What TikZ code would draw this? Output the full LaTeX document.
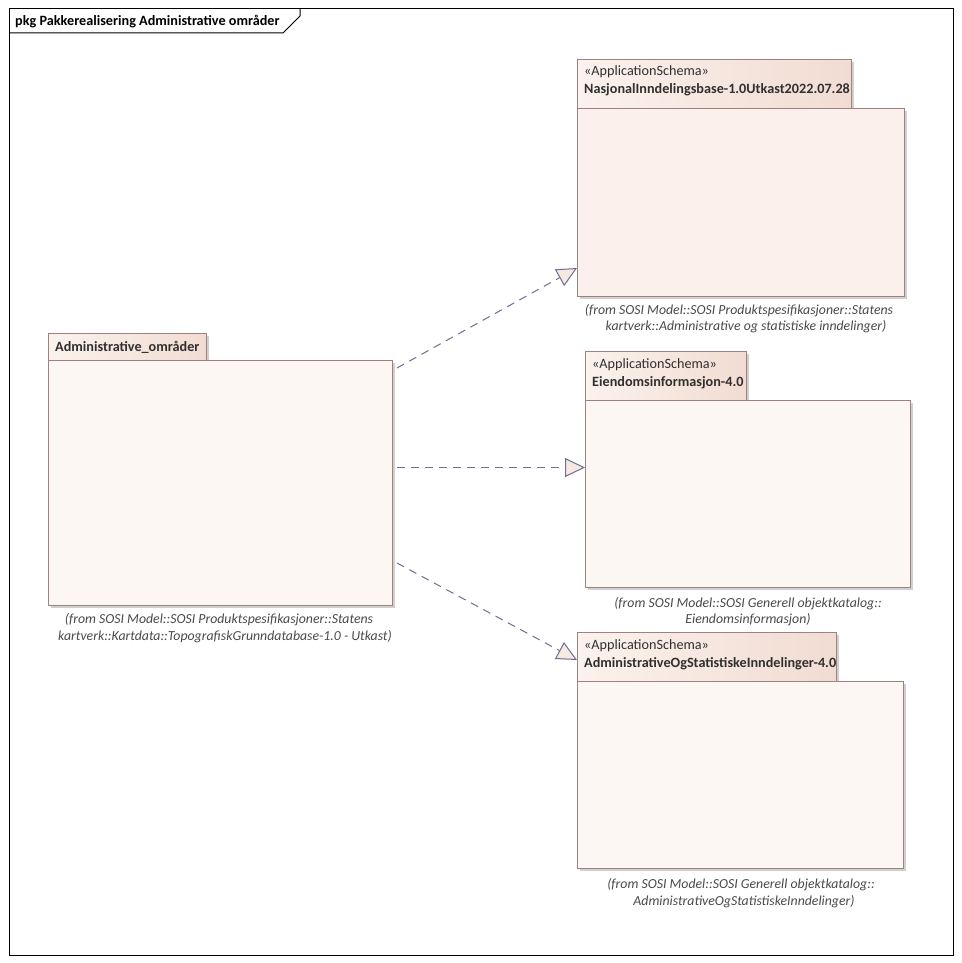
\documentclass[tikz,border=0pt]{standalone}
\usepackage{fontspec}
\setmainfont{Carlito}
\usetikzlibrary{arrows.meta,calc}
\definecolor{pkgline}{HTML}{9E8282}
\definecolor{bodyfill}{HTML}{FDF7F3}
\definecolor{bodyfillb}{HTML}{FBF0EC}
\definecolor{tabl}{HTML}{FBF2ED}
\definecolor{tabr}{HTML}{F1DCD2}
\definecolor{shadowc}{HTML}{D0D0D0}
\definecolor{depc}{HTML}{6A7090}
\definecolor{tipfill}{HTML}{F7E8E2}
\definecolor{captc}{HTML}{4A4A4A}
\definecolor{textc}{HTML}{303030}
\tikzset{
  pkgbody/.style={draw=pkgline, line width=1pt, anchor=north west, inner sep=0pt},
  pkgtab/.style={draw=pkgline, line width=1pt, anchor=north west, inner sep=0pt, left color=tabl, right color=tabr},
  shad/.style={fill=shadowc},
  dep/.style={draw=depc, line width=1pt, dash pattern=on 8pt off 6pt,
    -{Triangle[open, length=20pt, width=19pt, fill=tipfill]}},
  lbl/.style={anchor=base west, inner sep=0pt, text=textc},
  bold/.style={font=\fontsize{14.2}{16}\selectfont\bfseries},
  capt/.style={anchor=base, inner sep=0pt, text=captc, font=\fontsize{13.8}{16}\selectfont\itshape}
}
\begin{document}
\begin{tikzpicture}[x=1pt,y=-1pt, font=\fontsize{14.2}{16}\selectfont]
\useasboundingbox (0,0) rectangle (961,963);
\fill[white] (0,0) rectangle (961,963);
% frame
\draw[black, line width=1pt] (9,9) rectangle (953,955);
\draw[black, line width=1pt] (9,33) -- (283,33) -- (300,16) -- (300,9);
\node[lbl, text=black, bold] (title) at (15,26) {pkg Pakkerealisering Administrative områder};

% ---- left package
\fill[shad] (51,336) rectangle (209,360);
\fill[shad] (51,363) rectangle (395,608);
\node[pkgtab, minimum width=158pt, minimum height=27pt] (atab) at (48,333) {};
\node[pkgbody, fill=bodyfill, minimum width=344pt, minimum height=245pt] (a) at (48,360) {};
\node[lbl, bold] (aname) at (55,351) {Administrative\_områder};
\node[capt] (ac1) at (219,623) {(from SOSI Model::SOSI Produktspesifikasjoner::Statens};
\node[capt] (ac2) at (225,640) {kartverk::Kartdata::TopografiskGrunndatabase-1.0 - Utkast)};

% ---- package 1
\fill[shad] (580,62) rectangle (854,108);
\fill[shad] (580,111) rectangle (907,299);
\node[pkgtab, minimum width=274pt, minimum height=49pt] (n1tab) at (577,59) {};
\node[pkgbody, fill=bodyfillb, minimum width=327pt, minimum height=188pt] (n1) at (577,108) {};
\node[lbl] (n1st) at (584,76) {«ApplicationSchema»};
\node[lbl, bold] (n1name) at (584,94) {NasjonalInndelingsbase-1.0Utkast2022.07.28};
\node[capt] (n1c1) at (739,314) {(from SOSI Model::SOSI Produktspesifikasjoner::Statens};
\node[capt] (n1c2) at (746,330) {kartverk::Administrative og statistiske inndelinger)};

% ---- package 2
\fill[shad] (588,354) rectangle (749,400);
\fill[shad] (588,403) rectangle (913,590);
\node[pkgtab, minimum width=161pt, minimum height=49pt] (n2tab) at (585,351) {};
\node[pkgbody, fill=bodyfill, minimum width=325pt, minimum height=187pt] (n2) at (585,400) {};
\node[lbl] (n2st) at (592,368) {«ApplicationSchema»};
\node[lbl, bold] (n2name) at (592,386) {Eiendomsinformasjon-4.0};
\node[capt] (n2c1) at (748,607) {(from SOSI Model::SOSI Generell objektkatalog::};
\node[capt] (n2c2) at (748,623) {Eiendomsinformasjon)};

% ---- package 3
\fill[shad] (580,635) rectangle (839,681);
\fill[shad] (580,684) rectangle (906,871);
\node[pkgtab, minimum width=259pt, minimum height=49pt] (n3tab) at (577,632) {};
\node[pkgbody, fill=bodyfill, minimum width=326pt, minimum height=187pt] (n3) at (577,681) {};
\node[lbl] (n3st) at (584,649) {«ApplicationSchema»};
\node[lbl, bold] (n3name) at (584,667) {AdministrativeOgStatistiskeInndelinger-4.0};
\node[capt] (n3c1) at (741,888) {(from SOSI Model::SOSI Generell objektkatalog::};
\node[capt] (n3c2) at (744,905) {AdministrativeOgStatistiskeInndelinger)};

% ---- dependencies
\coordinate (s1) at ($(a.north east)+(4pt,-8pt)$);
\coordinate (s2) at ($(a.north east)+(4pt,-107.5pt)$);
\coordinate (s3) at ($(a.north east)+(4pt,-203pt)$);
\coordinate (e1) at ($(n1.north west)+(0,-160pt)$);
\coordinate (e2) at ($(n2.north west)+(0,-67.5pt)$);
\coordinate (e3) at ($(n3tab.north west)+(0,-28pt)$);
\draw[dep] (s1) -- (e1);
\draw[dep] (s2) -- (e2);
\draw[dep] (s3) -- (e3);
\end{tikzpicture}
\end{document}
